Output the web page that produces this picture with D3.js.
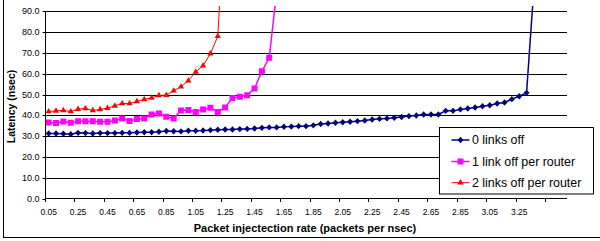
<!DOCTYPE html>
<html><head><meta charset="utf-8">
<script src="https://cdn.jsdelivr.net/npm/d3@7"></script>
<style>
html,body{margin:0;padding:0;background:#fff;}
svg{display:block;font-family:Arial,"Liberation Sans",sans-serif;}
</style></head>
<body><svg id="c" width="600" height="241"></svg>
<script>
const categories = ["0.05","0.10","0.15","0.20","0.25","0.30","0.35","0.40","0.45","0.50",
"0.55","0.60","0.65","0.70","0.75","0.80","0.85","0.90","0.95","1.00",
"1.05","1.10","1.15","1.20","1.25","1.30","1.35","1.40","1.45","1.50",
"1.55","1.60","1.65","1.70","1.75","1.80","1.85","1.90","1.95","2.00",
"2.05","2.10","2.15","2.20","2.25","2.30","2.35","2.40","2.45","2.50",
"2.55","2.60","2.65","2.70","2.75","2.80","2.85","2.90","2.95","3.00",
"3.05","3.10","3.15","3.20","3.25","3.30","3.35","3.40","3.45","3.50","3.55"];

const xTickLabels = ["0.05","0.25","0.45","0.65","0.85","1.05","1.25","1.45","1.65","1.85",
"2.05","2.25","2.45","2.65","2.85","3.05","3.25"];
const xTickMarks = ["0.05","0.25","0.45","0.65","0.85","1.05","1.25","1.45","1.65","1.85",
"2.05","2.25","2.45","2.65","2.85","3.05","3.25","3.45"];
const yTicks = [0,10,20,30,40,50,60,70,80,90];

const seriesNames = ["0 links off","1 link off per router","2 links off per router"];

const links0 = [31.4,31.4,31.3,31.1,31.7,31.6,31.4,31.6,31.6,31.6,
31.7,31.7,31.9,32.0,32.0,32.2,32.6,32.5,32.4,32.7,
32.7,32.8,33.0,33.2,33.3,33.3,33.5,33.6,33.8,34.1,
34.3,34.3,34.6,34.7,34.9,34.9,35.3,35.9,36.2,36.5,
36.8,37.0,37.3,37.6,38.1,38.4,38.6,38.9,39.3,39.7,
40.0,40.5,40.5,40.5,42.2,42.2,42.9,43.3,43.8,44.4,
44.9,45.7,46.2,47.8,49.2,50.8,101];

const links1 = [36.7,36.4,37.1,36.5,37.3,37.3,37.3,37.0,37.0,37.6,
38.6,37.4,38.3,38.5,40.5,41.0,39.4,38.6,42.4,42.6,
41.7,42.9,43.7,41.7,43.8,48.4,48.9,49.7,52.9,61.1,
67.5,99];

const links2 = [41.9,42.2,42.4,41.9,43.0,43.3,42.4,42.9,43.5,44.6,
45.7,45.7,46.7,47.7,48.4,49.6,49.7,51.8,53.7,56.6,
60.8,63.8,69.5,77.8,140];

const svg = d3.select("#c");
const L = 45, R = 567, T = 10.7, B = 199.3;

const x = d3.scaleBand().domain(categories).range([L, R]).padding(0);
const y = d3.scaleLinear().domain([0, 90]).range([B, T]);
const cx = c => x(c) + x.bandwidth() / 2;

// frame
svg.append("line").attr("x1",3.5).attr("x2",3.5).attr("y1",0).attr("y2",238).attr("stroke","#000").attr("stroke-width",1);
svg.append("line").attr("x1",3).attr("x2",600).attr("y1",237.5).attr("y2",237.5).attr("stroke","#000").attr("stroke-width",1);

// gridlines
svg.append("g").selectAll("line").data(yTicks.filter(d => d > 0)).join("line")
  .attr("x1", L).attr("x2", R)
  .attr("y1", d => Math.round(y(d)) + 0.5).attr("y2", d => Math.round(y(d)) + 0.5)
  .attr("stroke", "#000").attr("stroke-width", 1);

// y axis
const yAxis = d3.axisLeft(y).tickValues(yTicks).tickFormat(d3.format(".1f")).tickSize(3).tickSizeOuter(0).tickPadding(3);
const gy = svg.append("g").attr("transform", `translate(${L + 0.5},0)`).call(yAxis);
gy.select(".domain").attr("stroke","#000").attr("d", `M0,${Math.round(T) + 0.5}V${B}`);
gy.selectAll(".tick").attr("transform", d => `translate(0,${Math.round(y(d)) + 0.5})`);
gy.selectAll(".tick line").attr("stroke","#000");
gy.selectAll(".tick text").attr("font-size", 9).attr("fill","#000").attr("font-family","Arial, 'Liberation Sans', sans-serif");

// x axis
const gx = svg.append("g").attr("transform", `translate(0,${Math.round(B) - 0.5})`);
gx.append("line").attr("x1", L).attr("x2", R).attr("stroke", "#000");
gx.selectAll("line.tk").data(xTickMarks).join("line").attr("class","tk")
  .attr("x1", d => Math.round(x(d)) + 0.5).attr("x2", d => Math.round(x(d)) + 0.5)
  .attr("y1", 0).attr("y2", 3.5).attr("stroke", "#000");
gx.selectAll("text").data(xTickLabels).join("text")
  .attr("x", d => cx(d)).attr("y", 13.5).attr("dy","0.35em")
  .attr("text-anchor","middle").attr("font-size", 8.5).attr("fill","#000").text(d => d);

// axis titles
svg.append("text").attr("x", (L + R) / 2 - 1).attr("y", 231.7).attr("text-anchor","middle")
  .attr("font-size", 11).attr("font-weight","bold").text("Packet injectection rate (packets per nsec)");
svg.append("text").attr("transform","translate(15,106.5) rotate(-90)").attr("text-anchor","middle")
  .attr("font-size", 10.5).attr("font-weight","bold").text("Latency (nsec)");

// clip
svg.append("defs").append("clipPath").attr("id","pc").append("rect")
  .attr("x", L).attr("y", 6).attr("width", R - L).attr("height", B - 6 + 4);

const series = [
  {name: seriesNames[0], data: links0, color: "#000080", width: 1.5, marker: "diamond"},
  {name: seriesNames[1], data: links1, color: "#FF00FF", width: 1.5, marker: "square"},
  {name: seriesNames[2], data: links2, color: "#FF0000", width: 1, marker: "triangle"}
];

function markerPath(type) {
  if (type === "diamond") return "M0,-3.2L3,0L0,3.2L-3,0Z";
  if (type === "square") return "M-3,-3H3V3H-3Z";
  return d3.symbol(d3.symbolTriangle, 17)();
}

const plot = svg.append("g").attr("clip-path","url(#pc)");
const line = d3.line().x((d, i) => cx(categories[i])).y(d => y(d));
series.forEach(s => {
  plot.append("path").attr("d", line(s.data)).attr("fill","none")
    .attr("stroke", s.color).attr("stroke-width", s.width);
  plot.append("g").selectAll("path").data(s.data.map((v, i) => [i, v]).filter(d => d[1] <= 90)).join("path")
    .attr("d", markerPath(s.marker))
    .attr("transform", d => `translate(${cx(categories[d[0]])},${y(d[1])})`)
    .attr("fill", s.color);
});

// legend
const lg = svg.append("g");
lg.append("rect").attr("x", 439.5).attr("y", 127.5).attr("width", 154).attr("height", 66.5)
  .attr("fill","#fff").attr("stroke","#000").attr("stroke-width",1);
const ly = [140, 161.5, 182.7];
series.forEach((s, i) => {
  lg.append("line").attr("x1", 451.5).attr("x2", 469.5).attr("y1", ly[i]).attr("y2", ly[i])
    .attr("stroke", s.color).attr("stroke-width", s.width);
  lg.append("path").attr("d", markerPath(s.marker)).attr("transform", `translate(460.5,${ly[i]})`).attr("fill", s.color);
  lg.append("text").attr("x", 472).attr("y", ly[i]).attr("dy","0.35em").attr("font-size", 12.4)
    .attr("fill","#000").text(s.name);
});
</script></body></html>
